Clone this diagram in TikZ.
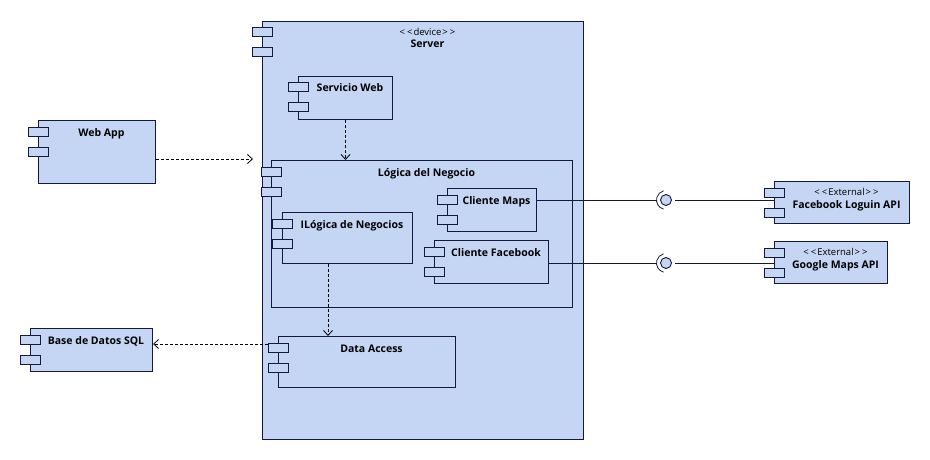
\documentclass[tikz,border=0pt]{standalone}
\usepackage{fontspec}
\setmainfont{Open Sans}
\usetikzlibrary{arrows.meta,calc}
\definecolor{cfill}{RGB}{196,214,243}
\definecolor{cline}{RGB}{20,24,64}
\tikzset{
  compbox/.style={draw=cline, fill=cfill, line width=1pt, rectangle, inner sep=0pt, anchor=north west},
  comptab/.style={draw=cline, fill=cfill, line width=1pt},
  nametext/.style={font=\fontsize{10.5}{12}\selectfont\bfseries, inner sep=0pt, anchor=base, text=black},
  stereotext/.style={font=\fontsize{9.5}{11}\selectfont, inner sep=0pt, anchor=base, text=black},
  dep/.style={draw=black, line width=0.8pt, dash pattern=on 3pt off 2pt, -{Straight Barb[length=5pt,width=9pt]}},
  assoc/.style={draw=cline, line width=0.8pt},
  iface/.style={circle, draw=cline, fill=cfill, line width=0.9pt, minimum size=11pt, inner sep=0pt},
}
\newcommand\stx[1]{<\kern2pt<\kern1pt#1\kern1pt>\kern2pt>}
% name, x, y, w, h
\newcommand\compshape[5]{%
  \node[compbox, minimum width=#4pt, minimum height=#5pt] (#1) at (#2,#3) {};
  \draw[comptab] ($(#1.north west)+(-10,7)$) rectangle ++(20,9);
  \draw[comptab] ($(#1.north west)+(-10,27)$) rectangle ++(20,9);
}
% name, x, y, w, h, label
\newcommand\comp[6]{%
  \compshape{#1}{#2}{#3}{#4}{#5}
  \node[nametext] (#1-name) at ($(#1.north west)+({(#4+10)/2},16)$) {#6};
}
% name, x, y, w, h, stereotype, label
\newcommand\compst[7]{%
  \compshape{#1}{#2}{#3}{#4}{#5}
  \node[stereotext] (#1-st) at ($(#1.north west)+({(#4+10)/2},14.5)$) {\stx{#6}};
  \node[nametext] (#1-name) at ($(#1.north west)+({(#4+10)/2},27)$) {#7};
}
\begin{document}
\begin{tikzpicture}[x=1pt, y=-1pt]
\fill[white] (0,0) rectangle (930,460);
\useasboundingbox (0,0) rectangle (930,460);

\compst{server}{262}{21}{321}{418}{device}{Server}
\comp{webapp}{38}{120}{117}{63}{Web App}
\comp{sweb}{298}{76}{94}{43}{Servicio Web}
\comp{logica}{271}{160}{301}{147}{Lógica del Negocio}
\comp{cmaps}{447}{188}{89}{43}{Cliente Maps}
\comp{ilog}{282}{212}{130}{51}{ILógica de Negocios}
\comp{cfb}{434}{240}{114}{43}{Cliente Facebook}
\comp{da}{278}{336}{177}{51}{Data Access}
\comp{base}{30}{328}{122}{43}{Base de Datos SQL}
\compst{fbapi}{774}{181}{135}{42}{External}{Facebook Loguin API}
\compst{gapi}{774}{241}{113}{42}{External}{Google Maps API}

% dependencies
\coordinate (wl) at (253,159);
\draw[dep] (webapp.east |- wl) -- (wl);
\draw[dep] (sweb.south) -- (sweb.south |- logica.north);
\coordinate (ilogout) at ($(ilog.south west)+(46,0)$);
\draw[dep] (ilogout) -- (ilogout |- da.north);
\coordinate (daout) at ($(da.north west)+(-10,8)$);
\draw[dep] (daout) -- (base.east |- daout);

% interfaces
\node[iface] (i1) at (666,200) {};
\node[iface] (i2) at (666,263) {};
\coordinate (s1) at ($(i1.center)+(-9.5,0)$);
\coordinate (s2) at ($(i2.center)+(-9.5,0)$);
\draw[assoc] ($(i1.center)+(105:9.5)$) arc[start angle=105, end angle=255, radius=9.5];
\draw[assoc] ($(i2.center)+(105:9.5)$) arc[start angle=105, end angle=255, radius=9.5];
\draw[assoc] (cmaps.east |- i1.center) -- (s1);
\draw[assoc] (cfb.east |- i2.center) -- (s2);
\draw[assoc] ($(i1.east)+(3,0)$) -- (fbapi.west |- i1.center);
\draw[assoc] ($(i2.east)+(3,0)$) -- (gapi.west |- i2.center);
\end{tikzpicture}
\end{document}
